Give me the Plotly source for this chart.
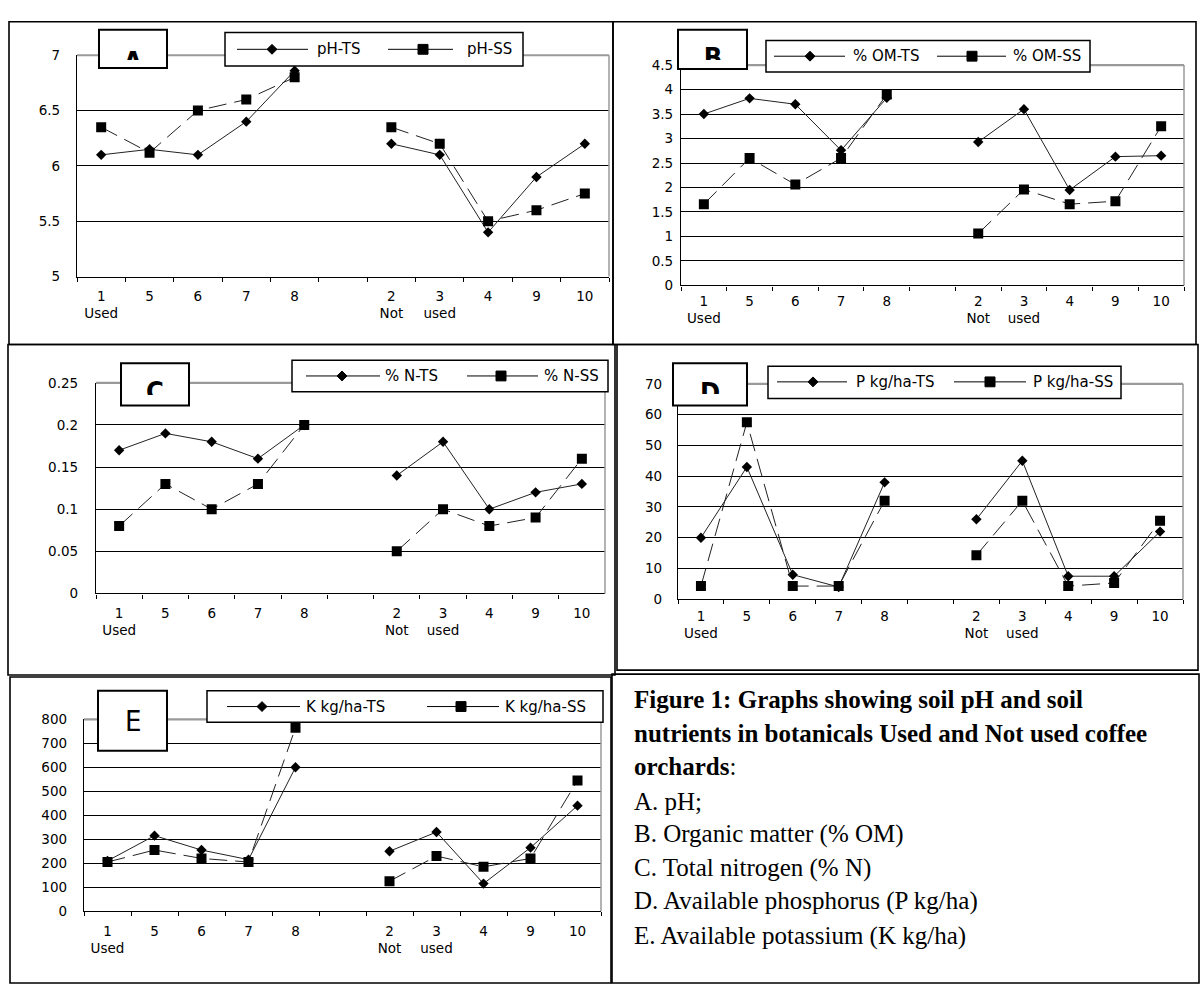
import plotly.graph_objects as go

W, H = 1200, 992

# ---------------- data ----------------
categories = ["1", "5", "6", "7", "8", " ", "2", "3", "4", "9", "10"]
tick_labels = ["1<br>Used", "5", "6", "7", "8", "", "2<br>Not", "3<br>used", "4", "9", "10"]
sites = ["1", "5", "6", "7", "8", "2", "3", "4", "9", "10"]

ph_ts = [6.10, 6.15, 6.10, 6.40, 6.86, 6.20, 6.10, 5.40, 5.90, 6.20]
ph_ss = [6.35, 6.12, 6.50, 6.60, 6.80, 6.35, 6.20, 5.50, 5.60, 5.75]

om_ts = [3.50, 3.82, 3.70, 2.76, 3.83, 2.93, 3.60, 1.95, 2.63, 2.65]
om_ss = [1.66, 2.60, 2.06, 2.60, 3.90, 1.06, 1.96, 1.66, 1.72, 3.25]

n_ts = [0.17, 0.19, 0.18, 0.16, 0.20, 0.14, 0.18, 0.10, 0.12, 0.13]
n_ss = [0.08, 0.13, 0.10, 0.13, 0.20, 0.05, 0.10, 0.08, 0.09, 0.16]

p_ts = [20, 43, 8, 4, 38, 26, 45, 7.5, 7.5, 22]
p_ss = [4.3, 57.5, 4.3, 4.3, 32, 14.3, 32, 4.3, 5.3, 25.5]

k_ts = [210, 315, 255, 215, 600, 250, 330, 115, 265, 440]
k_ss = [205, 255, 220, 205, 765, 125, 230, 185, 220, 545]

caption_lines = [
    "<b>Figure 1: Graphs showing soil pH and soil</b>",
    "<b>nutrients in botanicals Used and Not used coffee</b>",
    "<b>orchards</b>:",
    "A. pH;",
    "B. Organic matter (% OM)",
    "C. Total nitrogen (% N)",
    "D. Available phosphorus (P kg/ha)",
    "E. Available potassium (K kg/ha)",
]


def with_gap(values):
    lookup = dict(zip(sites, values))
    return [lookup.get(c) for c in categories]


def px(x):
    return x / W


def py(y):
    return 1 - y / H


panels = [
    dict(name="A", ts=ph_ts, ss=ph_ss, ts_name="pH-TS", ss_name="pH-SS",
         yr=[5, 7], dtick=0.5, plot=(77, 48, 609, 273), frame=(9, 14, 613, 342),
         ystand=13, xstand=7, label_box=(99, 22, 167, 61), letter=(46, 53),
         legend_box=(225, 25, 523, 59), leg_y=42,
         leg=[(237, 308, 272, 315), (388, 453, 423, 465)]),
    dict(name="B", ts=om_ts, ss=om_ss, ts_name="% OM-TS", ss_name="% OM-SS",
         yr=[0, 4.5], dtick=0.5, plot=(681, 58, 1184, 282), frame=(613, 14, 1196, 342),
         ystand=4, xstand=3, label_box=(678, 22, 747, 62), letter=(42, 53),
         legend_box=(766, 33, 1090, 65), leg_y=49,
         leg=[(774, 845, 810, 851), (937, 1006, 972, 1011)]),
    dict(name="C", ts=n_ts, ss=n_ss, ts_name="% N-TS", ss_name="% N-SS",
         yr=[0, 0.25], dtick=0.05, plot=(96, 381, 605, 595), frame=(8, 342, 615, 678),
         ystand=14, xstand=7, label_box=(121, 361, 189, 404), letter=(381, 393),
         legend_box=(292, 358, 608, 390), leg_y=374,
         leg=[(306, 380, 342, 383), (467, 538, 501, 542)]),
    dict(name="D", ts=p_ts, ss=p_ss, ts_name="P kg/ha-TS", ss_name="P kg/ha-SS",
         yr=[0, 70], dtick=10, plot=(678, 382, 1183, 601), frame=(617, 342, 1198, 673),
         ystand=12, xstand=4, label_box=(673, 361, 747, 404), letter=(382, 392),
         legend_box=(768, 364, 1121, 397), leg_y=380,
         leg=[(777, 847, 813, 854), (954, 1026, 990, 1031)]),
    dict(name="E", ts=k_ts, ss=k_ss, ts_name="K kg/ha-TS", ss_name="K kg/ha-SS",
         yr=[0, 800], dtick=100, plot=(84, 723, 601, 918), frame=(10, 680, 611, 991),
         ystand=13, xstand=7, label_box=(98, 694, 167, 755), letter=None,
         legend_box=(207, 694, 603, 726), leg_y=710,
         leg=[(227, 300, 262, 304), (427, 499, 461, 503)]),
]

TICK_FONT = dict(family="DejaVu Sans", size=13.5, color="black")
LEG_FONT = dict(family="DejaVu Sans", size=15, color="black")
LETTER_FAMILY = "Liberation Sans Narrow, DejaVu Sans Condensed, Liberation Sans"

fig = go.Figure()
shapes = []
annotations = []
layout = {}

for i, p in enumerate(panels, start=1):
    xa = "x" if i == 1 else f"x{i}"
    ya = "y" if i == 1 else f"y{i}"
    xkey = "xaxis" if i == 1 else f"xaxis{i}"
    ykey = "yaxis" if i == 1 else f"yaxis{i}"
    l, t, r, b = p["plot"]

    fig.add_trace(go.Scatter(
        x=categories, y=with_gap(p["ts"]), xaxis=xa, yaxis=ya, name=p["ts_name"],
        mode="lines+markers", showlegend=False, connectgaps=False,
        line=dict(color="#222", width=1),
        marker=dict(symbol="diamond", size=8, color="black")))
    fig.add_trace(go.Scatter(
        x=categories, y=with_gap(p["ss"]), xaxis=xa, yaxis=ya, name=p["ss_name"],
        mode="lines+markers", showlegend=False, connectgaps=False,
        line=dict(color="#222", width=1, dash="18px,8px"),
        marker=dict(symbol="square", size=10, color="black")))

    layout[xkey] = dict(
        domain=[px(l), px(r)], anchor=ya, type="category",
        categoryorder="array", categoryarray=categories,
        range=[-0.5, len(categories) - 0.5],
        tickmode="array", tickvals=categories, ticktext=tick_labels,
        ticks="outside", tickson="boundaries", ticklen=4, tickcolor="black",
        showline=True, linecolor="black", linewidth=1.3, showgrid=False,
        zeroline=False, tickfont=TICK_FONT, ticklabelstandoff=p["xstand"],
        fixedrange=True)
    layout[ykey] = dict(
        domain=[py(b), py(t)], anchor=xa, range=p["yr"], tick0=p["yr"][0],
        dtick=p["dtick"], showgrid=True, gridcolor="black", gridwidth=1.3,
        showline=True, linecolor="black", linewidth=1.3, ticks="",
        zeroline=False, tickfont=TICK_FONT, ticklabelstandoff=p["ystand"],
        fixedrange=True)

    # gray plot border (top and right)
    shapes.append(dict(type="line", xref=f"{xa} domain", yref=f"{ya} domain",
                       x0=0, x1=1, y0=1, y1=1, line=dict(color="#9a9a9a", width=2.2),
                       layer="above"))
    shapes.append(dict(type="line", xref=f"{xa} domain", yref=f"{ya} domain",
                       x0=1, x1=1, y0=0, y1=1, line=dict(color="#9a9a9a", width=1.5),
                       layer="above"))

    # panel frame
    fx0, fy0, fx1, fy1 = p["frame"]
    shapes.append(dict(type="rect", xref="paper", yref="paper",
                       x0=px(fx0), x1=px(fx1), y0=py(fy1), y1=py(fy0),
                       line=dict(color="black", width=1.6), layer="above"))

    # letter box
    bx0, by0, bx1, by1 = p["label_box"]
    shapes.append(dict(type="rect", xref="paper", yref="paper",
                       x0=px(bx0), x1=px(bx1), y0=py(by1), y1=py(by0),
                       fillcolor="white", line=dict(color="black", width=2),
                       layer="above"))
    cx = (bx0 + bx1) / 2
    if p["letter"] is not None:
        top, clip = p["letter"]
        box_top = top - 7
        annotations.append(dict(
            text=f"<b>{p['name']}</b>", xref="paper", yref="paper",
            x=px(cx), y=py(box_top), xanchor="center", yanchor="top",
            showarrow=False, width=40, height=clip - box_top, valign="top",
            borderpad=0, borderwidth=0,
            font=dict(family=LETTER_FAMILY, size=27, color="black")))
    else:
        annotations.append(dict(
            text=p["name"], xref="paper", yref="paper",
            x=px(cx), y=py((by0 + by1) / 2), xanchor="center", yanchor="middle",
            showarrow=False,
            font=dict(family=LETTER_FAMILY, size=29, color="black")))

    # legend box
    lx0, ly0, lx1, ly1 = p["legend_box"]
    shapes.append(dict(type="rect", xref="paper", yref="paper",
                       x0=px(lx0), x1=px(lx1), y0=py(ly1), y1=py(ly0),
                       fillcolor="white", line=dict(color="black", width=1.5),
                       layer="above"))
    yc = p["leg_y"]
    for k, (a0, a1, mx, tx) in enumerate(p["leg"]):
        shapes.append(dict(type="line", xref="paper", yref="paper",
                           x0=px(a0), x1=px(a1), y0=py(yc), y1=py(yc),
                           line=dict(color="black", width=1), layer="above"))
        s = 5
        if k == 0:
            path = (f"M{px(mx)},{py(yc - s)} L{px(mx + s)},{py(yc)} "
                    f"L{px(mx)},{py(yc + s)} L{px(mx - s)},{py(yc)} Z")
            shapes.append(dict(type="path", xref="paper", yref="paper", path=path,
                               fillcolor="black", line=dict(color="black", width=1),
                               layer="above"))
        else:
            shapes.append(dict(type="rect", xref="paper", yref="paper",
                               x0=px(mx - s), x1=px(mx + s), y0=py(yc + s), y1=py(yc - s),
                               fillcolor="black", line=dict(color="black", width=1),
                               layer="above"))
        annotations.append(dict(
            text=p["ts_name"] if k == 0 else p["ss_name"], xref="paper", yref="paper",
            x=px(tx), y=py(yc), xanchor="left", yanchor="middle", showarrow=False,
            font=LEG_FONT))

# caption box
shapes.append(dict(type="rect", xref="paper", yref="paper",
                   x0=px(612), x1=px(1199), y0=py(991), y1=py(677),
                   line=dict(color="black", width=1.6), layer="above"))
cap_y = [703, 737, 771, 806, 840, 874, 908, 943]
for txt, yy in zip(caption_lines, cap_y):
    annotations.append(dict(
        text=txt, xref="paper", yref="paper", x=px(632), y=py(yy),
        xanchor="left", yanchor="middle", showarrow=False,
        font=dict(family="Liberation Serif", size=25, color="black")))

fig.update_layout(
    width=W, height=H, margin=dict(l=0, r=0, t=0, b=0),
    paper_bgcolor="white", plot_bgcolor="white", showlegend=False,
    shapes=shapes, annotations=annotations, **layout)

fig.write_html(
    "out.html",
    config={"displayModeBar": False},
    post_script="document.body.style.margin='0px';document.body.style.overflow='hidden';")
